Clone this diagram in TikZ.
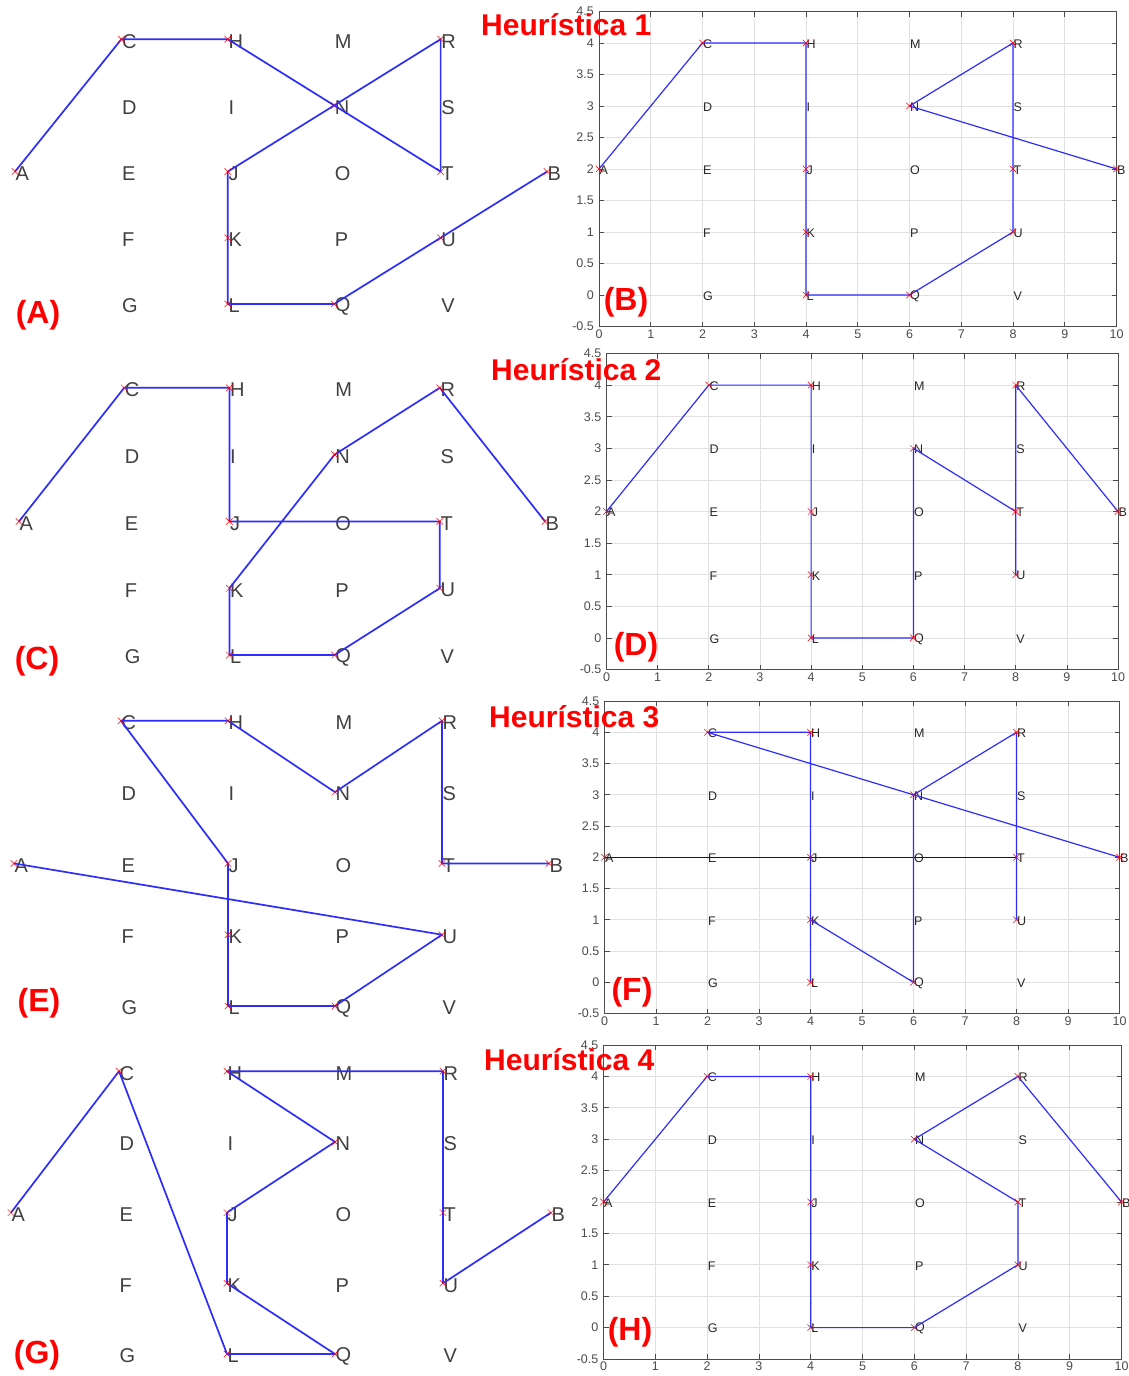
\documentclass[tikz,border=0pt]{standalone}
\usepackage{fontspec}
\setmainfont{Liberation Sans}
\usetikzlibrary{shapes.misc}
\definecolor{lineblue}{RGB}{45,45,255}
\definecolor{deepblue}{RGB}{0,0,200}

\begin{document}
\begin{tikzpicture}[
    x=1pt, y=-1pt,
    bigltr/.style={anchor=west, inner sep=0.5pt, yshift=-2pt, text=black!75,
                   font=\fontsize{20}{20}\selectfont},
    smlltr/.style={anchor=west, inner sep=0.5pt, yshift=-1pt, text=black!85,
                   font=\fontsize{12.5}{12.5}\selectfont},
    mk/.style={cross out, draw=red, minimum size=6pt, inner sep=0pt, line width=0.5pt},
    route/.style={draw=lineblue, line width=1.2pt, line join=round},
    fatroute/.style={route, line width=1.7pt},
    darkroute/.style={draw=deepblue, line width=1pt},
    gridln/.style={black!12, line width=0.7pt},
    tickln/.style={black!70, line width=0.7pt},
    axbox/.style={black!70, line width=0.9pt},
    ticklbl/.style={inner sep=0pt, text=black!70, font=\fontsize{12.5}{12.5}\selectfont},
    head/.style={anchor=west, inner sep=0pt, text=red,
                 font=\bfseries\fontsize{30}{30}\selectfont},
    panel/.style={inner sep=0pt, text=red, font=\bfseries\fontsize{32}{32}\selectfont},
    board/.pic={
      \foreach \n/\i/\j in {A/0/2, B/10/2, C/2/4, D/2/3, E/2/2, F/2/1, G/2/0,
                            H/4/4, I/4/3, J/4/2, K/4/1, L/4/0, M/6/4, N/6/3,
                            O/6/2, P/6/1, Q/6/0, R/8/4, S/8/3, T/8/2, U/8/1, V/8/0}{
        \coordinate (-\n) at (\i,\j);
        \node[ltr] (-\n-t) at (\i,\j) {\n};
      }
    },
    axes/.pic={
      \foreach \i in {0,...,10} \draw[gridln] (\i,-0.5) -- (\i,4.5);
      \foreach \j in {-0.5,0,0.5,1,1.5,2,2.5,3,3.5,4,4.5} \draw[gridln] (0,\j) -- (10,\j);
      \foreach \i in {0,...,10}{
        \draw[tickln] (\i,-0.5) -- ++(0pt,5pt);
        \draw[tickln] (\i,4.5) -- ++(0pt,-5pt);
        \node[ticklbl, anchor=north, yshift=-3pt] (-x\i) at (\i,-0.5) {\i};
      }
      \foreach \j [count=\c] in {-0.5,0,0.5,1,1.5,2,2.5,3,3.5,4,4.5}{
        \draw[tickln] (0,\j) -- ++(5pt,0pt);
        \draw[tickln] (10,\j) -- ++(-5pt,0pt);
        \node[ticklbl, anchor=east, xshift=-5pt] (-y\c) at (0,\j) {\j};
      }
      \draw[axbox] (0,-0.5) rectangle (10,4.5);
    },
  ]

  \useasboundingbox[fill=white] (0,0) rectangle (1129,1376);

  %% ---- (A) -----------------------------------------------------------
  \begin{scope}[shift={(15,304)}, x=53.2pt, y=66.2pt, ltr/.style=bigltr]
    \pic (a) {board};
    \draw[fatroute] (a-A) -- (a-C) -- (a-H) -- (a-N) -- (a-T) -- (a-R) -- (a-N)
                    -- (a-J) -- (a-K) -- (a-L) -- (a-Q) -- (a-U) -- (a-B);
    \foreach \n in {A,C,H,N,T,R,J,K,L,Q,U,B} \node[mk] (a-\n-x) at (a-\n) {};
  \end{scope}

  %% ---- (B) -----------------------------------------------------------
  \begin{scope}[shift={(599,295)}, x=51.75pt, y=63pt, ltr/.style=smlltr]
    \pic (bx) {axes};
    \pic (b) {board};
    \draw[route] (b-A) -- (b-C) -- (b-H) -- (b-J) -- (b-K) -- (b-L) -- (b-Q)
                 -- (b-U) -- (b-T) -- (b-R) -- (b-N) -- (b-B);
    \foreach \n in {A,C,H,J,K,L,Q,U,T,R,N,B} \node[mk] (b-\n-x) at (b-\n) {};
  \end{scope}

  %% ---- (C) -----------------------------------------------------------
  \begin{scope}[shift={(19,655)}, x=52.6pt, y=66.8pt, ltr/.style=bigltr]
    \pic (c) {board};
    \draw[fatroute] (c-A) -- (c-C) -- (c-H) -- (c-J) -- (c-T) -- (c-U) -- (c-Q)
                    -- (c-L) -- (c-K) -- (c-N) -- (c-R) -- (c-B);
    \foreach \n in {A,C,H,J,T,U,Q,L,K,N,R,B} \node[mk] (c-\n-x) at (c-\n) {};
  \end{scope}

  %% ---- (D) -----------------------------------------------------------
  \begin{scope}[shift={(606.5,637.9)}, x=51.15pt, y=63.2pt, ltr/.style=smlltr]
    \pic (dx) {axes};
    \pic (d) {board};
    \draw[route] (d-A) -- (d-C) -- (d-H) -- (d-J) -- (d-K) -- (d-L) -- (d-Q)
                 -- (d-N) -- (d-T) -- (d-U) -- (d-R) -- (d-B);
    \foreach \n in {A,C,H,J,K,L,Q,N,T,U,R,B} \node[mk] (d-\n-x) at (d-\n) {};
  \end{scope}

  %% ---- (E) -----------------------------------------------------------
  \begin{scope}[shift={(14,1006)}, x=53.5pt, y=71.3pt, ltr/.style=bigltr]
    \pic (e) {board};
    \draw[fatroute] (e-A) -- (e-U) -- (e-Q) -- (e-L) -- (e-K) -- (e-J) -- (e-C)
                    -- (e-H) -- (e-N) -- (e-R) -- (e-T) -- (e-B);
    \foreach \n in {A,U,Q,L,K,J,C,H,N,R,T,B} \node[mk] (e-\n-x) at (e-\n) {};
  \end{scope}

  %% ---- (F) -----------------------------------------------------------
  \begin{scope}[shift={(604.5,982.3)}, x=51.5pt, y=62.5pt, ltr/.style=smlltr]
    \pic (fx) {axes};
    \pic (f) {board};
    \draw[darkroute] (f-A) -- (f-T);
    \draw[route] (f-B) -- (f-C) -- (f-H) -- (f-L);
    \draw[route] (f-K) -- (f-Q) -- (f-N) -- (f-R) -- (f-U);
    \foreach \n in {A,C,H,J,K,L,N,Q,R,T,U,B} \node[mk] (f-\n-x) at (f-\n) {};
  \end{scope}

  %% ---- (G) -----------------------------------------------------------
  \begin{scope}[shift={(11,1354)}, x=54pt, y=70.7pt, ltr/.style=bigltr]
    \pic (g) {board};
    \draw[fatroute] (g-A) -- (g-C) -- (g-L) -- (g-Q) -- (g-K) -- (g-J) -- (g-N)
                    -- (g-H) -- (g-R) -- (g-T) -- (g-U) -- (g-B);
    \foreach \n in {A,C,L,Q,K,J,N,H,R,T,U,B} \node[mk] (g-\n-x) at (g-\n) {};
  \end{scope}

  %% ---- (H) -----------------------------------------------------------
  \begin{scope}[shift={(603.5,1327.6)}, x=51.8pt, y=62.8pt, ltr/.style=smlltr]
    \pic (hx) {axes};
    \pic (h) {board};
    \draw[route] (h-A) -- (h-C) -- (h-H) -- (h-J) -- (h-K) -- (h-L) -- (h-Q)
                 -- (h-U) -- (h-T) -- (h-N) -- (h-R) -- (h-B);
    \foreach \n in {A,C,H,J,K,L,Q,U,T,N,R,B} \node[mk] (h-\n-x) at (h-\n) {};
  \end{scope}

  %% ---- titles and panel tags ------------------------------------------
  \node[head] (t1) at (481,25)   {Heurística 1};
  \node[head] (t2) at (491,370)  {Heurística 2};
  \node[head] (t3) at (489,717)  {Heurística 3};
  \node[head] (t4) at (484,1060) {Heurística 4};

  \node[panel] (pa) at (38,315)   {(A)};
  \node[panel] (pb) at (626,302)  {(B)};
  \node[panel] (pc) at (37,661)   {(C)};
  \node[panel] (pd) at (636,647)  {(D)};
  \node[panel] (pe) at (39,1003)  {(E)};
  \node[panel] (pf) at (632,992)  {(F)};
  \node[panel] (pg) at (37,1355)  {(G)};
  \node[panel] (ph) at (630,1332) {(H)};

\end{tikzpicture}
\end{document}
